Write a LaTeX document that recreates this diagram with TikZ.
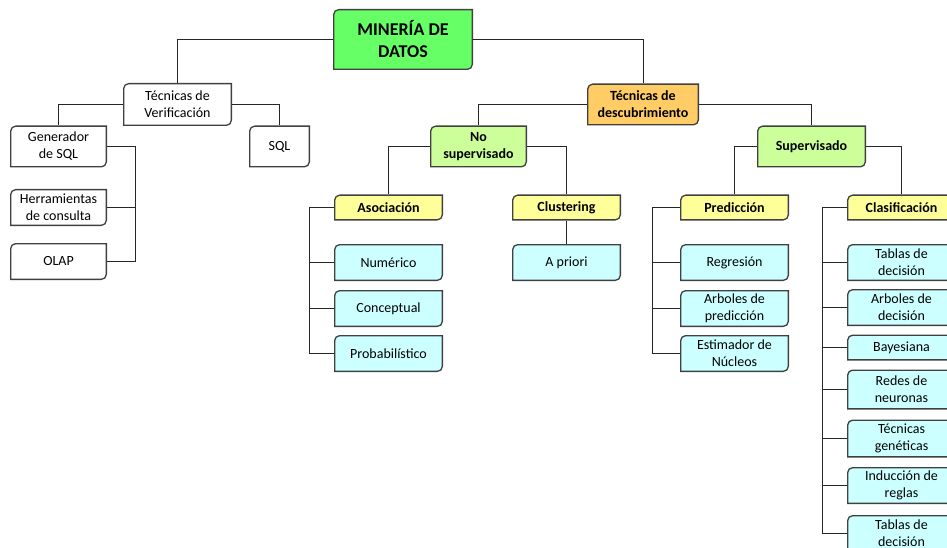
\documentclass[tikz,border=0pt]{standalone}
\usepackage{fontspec}
\setmainfont{Carlito}
\usepackage{tikz}

\definecolor{verde}{HTML}{66FF66}
\definecolor{naranja}{HTML}{FFCC66}
\definecolor{verdeclaro}{HTML}{CCFF99}
\definecolor{amarillo}{HTML}{FFFF99}
\definecolor{celeste}{HTML}{CCFFFF}
\definecolor{borde}{HTML}{404040}

\begin{document}
\begin{tikzpicture}[x=1pt,y=-1pt,
  caja/.style={align=center, inner sep=1pt, font=\fontsize{14}{17}\selectfont,
    path picture={\draw[borde,line width=1.3pt,fill=#1]
      ([xshift=.65pt,yshift=.65pt]path picture bounding box.south west)
      [rounded corners=5pt] -- ([xshift=.65pt,yshift=-.65pt]path picture bounding box.north west)
      [sharp corners] -- ([xshift=-.65pt,yshift=-.65pt]path picture bounding box.north east)
      [rounded corners=5pt] -- ([xshift=-.65pt,yshift=.65pt]path picture bounding box.south east)
      [sharp corners] -- cycle;}},
  caja/.default=white,
  linea/.style={line width=0.9pt, black!85}]
  \path[use as bounding box] (0,0) rectangle (947,548);
  \clip (0,0) rectangle (947,548);

  % raiz
  \node[caja=verde, minimum width=140, minimum height=61, font=\fontsize{18}{22}\selectfont\bfseries]
    (mineria) at (403,39.5) {MINERÍA DE\\DATOS};

  % verificacion
  \node[caja, minimum width=109, minimum height=43] (verif) at (177.5,104.5) {Técnicas de\\Verificación};
  \node[caja, minimum width=97, minimum height=42] (gen) at (58.5,146.5) {Generador\\de SQL};
  \node[caja, minimum width=97, minimum height=37] (herr) at (58.5,207.5) {Herramientas\\de consulta};
  \node[caja, minimum width=97, minimum height=37] (olap) at (58.5,261.5) {OLAP};
  \node[caja, minimum width=61, minimum height=42] (sql) at (279.5,146.5) {SQL};

  % descubrimiento
  \node[caja=naranja, minimum width=112, minimum height=42, font=\fontsize{14}{17}\selectfont\bfseries]
    (descub) at (643,104.5) {Técnicas de\\descubrimiento};
  \node[caja=verdeclaro, minimum width=97, minimum height=42, font=\fontsize{14}{17}\selectfont\bfseries]
    (nosup) at (478.5,146.5) {No\\supervisado};
  \node[caja=verdeclaro, minimum width=109, minimum height=42, font=\fontsize{14}{17}\selectfont\bfseries]
    (sup) at (811.5,146.5) {Supervisado};

  \node[caja=amarillo, minimum width=109, minimum height=26, font=\fontsize{14}{17}\selectfont\bfseries]
    (asoc) at (388.5,207.5) {Asociación};
  \node[caja=amarillo, minimum width=109, minimum height=26, font=\fontsize{14}{17}\selectfont\bfseries]
    (clust) at (566.5,207.5) {Clustering};
  \node[caja=amarillo, minimum width=109, minimum height=26, font=\fontsize{14}{17}\selectfont\bfseries]
    (pred) at (734.5,207.5) {Predicción};
  \node[caja=amarillo, minimum width=109, minimum height=26, font=\fontsize{14}{17}\selectfont\bfseries]
    (clasif) at (901.5,207.5) {Clasificación};

  \node[caja=celeste, minimum width=109, minimum height=37] (num) at (388.5,262.5) {Numérico};
  \node[caja=celeste, minimum width=109, minimum height=37] (concep) at (388.5,308.5) {Conceptual};
  \node[caja=celeste, minimum width=109, minimum height=37] (prob) at (388.5,353.5) {Probabilístico};

  \node[caja=celeste, minimum width=109, minimum height=37] (apriori) at (566.5,262.5) {A priori};

  \node[caja=celeste, minimum width=109, minimum height=37] (regr) at (734.5,262.5) {Regresión};
  \node[caja=celeste, minimum width=109, minimum height=37] (arbpred) at (734.5,308.5) {Arboles de\\predicción};
  \node[caja=celeste, minimum width=109, minimum height=37] (estim) at (734.5,353.5) {Estimador de\\Núcleos};

  \node[caja=celeste, minimum width=109, minimum height=37] (tabla) at (901.5,262.5) {Tablas de\\decisión};
  \node[caja=celeste, minimum width=109, minimum height=37] (arbdec) at (901.5,307.5) {Arboles de\\decisión};
  \node[caja=celeste, minimum width=109, minimum height=26] (bayes) at (901.5,347.5) {Bayesiana};
  \node[caja=celeste, minimum width=109, minimum height=40] (redes) at (901.5,389.5) {Redes de\\neuronas};
  \node[caja=celeste, minimum width=109, minimum height=38] (tecgen) at (901.5,438.5) {Técnicas\\genéticas};
  \node[caja=celeste, minimum width=109, minimum height=37] (induc) at (901.5,485.5) {Inducción de\\reglas};
  \node[caja=celeste, minimum width=109, minimum height=37] (tablados) at (901.5,533.5) {Tablas de\\decisión};

  % conectores
  \draw[linea] (mineria.west) -| (verif.north);
  \draw[linea] (mineria.east) -| (descub.north);
  \draw[linea] (verif.west) -| (gen.north);
  \draw[linea] (verif.east) -| (sql.north);

  \coordinate (genbar) at (135.5,0);
  \draw[linea] (gen.east) -- (gen.east -| genbar) |- (olap.east);
  \draw[linea] (herr.east) -- (herr.east -| genbar);

  \draw[linea] (descub.west) -| (nosup.north);
  \draw[linea] (descub.east) -| (sup.north);
  \draw[linea] (nosup.west) -| (asoc.north);
  \draw[linea] (nosup.east) -| (clust.north);
  \draw[linea] (sup.west) -| (pred.north);
  \draw[linea] (sup.east) -| (clasif.north);

  \coordinate (asocbar) at (309.5,0);
  \draw[linea] (asoc.west) -- (asoc.west -| asocbar) |- (prob.west);
  \draw[linea] (num.west) -- (num.west -| asocbar);
  \draw[linea] (concep.west) -- (concep.west -| asocbar);

  \draw[linea] (clust.south) -- (apriori.north);

  \coordinate (predbar) at (652.5,0);
  \draw[linea] (pred.west) -- (pred.west -| predbar) |- (estim.west);
  \draw[linea] (regr.west) -- (regr.west -| predbar);
  \draw[linea] (arbpred.west) -- (arbpred.west -| predbar);

  \coordinate (clasifbar) at (822.5,0);
  \draw[linea] (clasif.west) -- (clasif.west -| clasifbar) |- (tablados.west);
  \draw[linea] (tabla.west) -- (tabla.west -| clasifbar);
  \draw[linea] (arbdec.west) -- (arbdec.west -| clasifbar);
  \draw[linea] (bayes.west) -- (bayes.west -| clasifbar);
  \draw[linea] (redes.west) -- (redes.west -| clasifbar);
  \draw[linea] (tecgen.west) -- (tecgen.west -| clasifbar);
  \draw[linea] (induc.west) -- (induc.west -| clasifbar);
\end{tikzpicture}
\end{document}
